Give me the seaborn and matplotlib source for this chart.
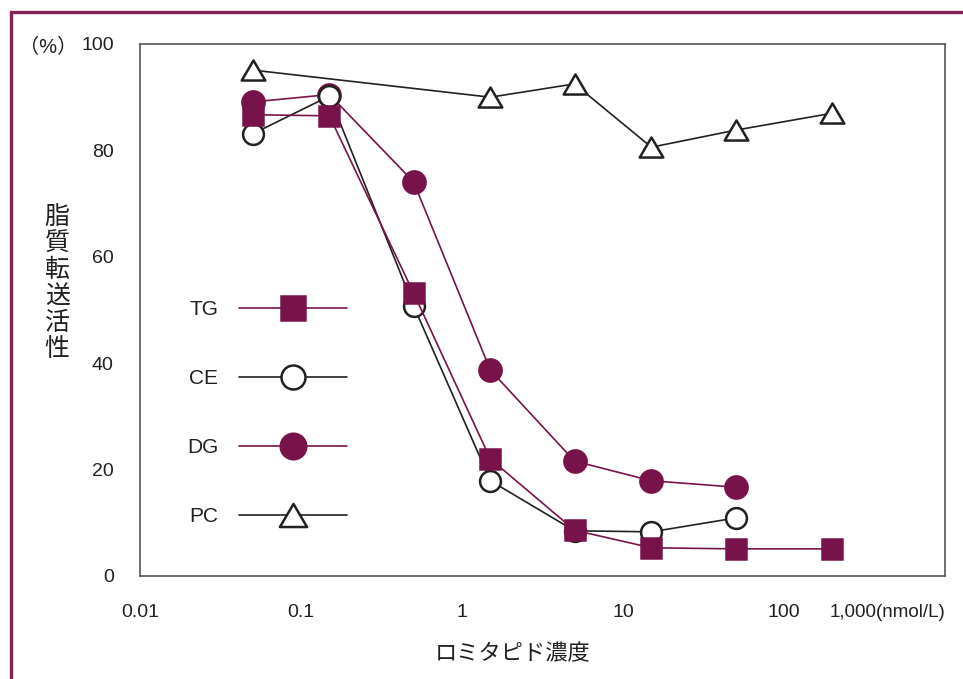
import matplotlib
matplotlib.use('Agg')
import matplotlib.pyplot as plt
from matplotlib.patches import Rectangle
from matplotlib.path import Path
import seaborn as sns
import pandas as pd

sns.set_theme(style='white')
plt.rcParams['font.family'] = ['Liberation Sans', 'Noto Sans CJK JP', 'DejaVu Sans']

# ---- data (lomitapide concentration, nmol/L) ----
conc_tg = [0.05, 0.15, 0.5, 1.5, 5, 15, 50, 200]
act_tg = [86.7, 86.5, 53.2, 22.0, 8.6, 5.3, 5.1, 5.1]

conc_ce = [0.05, 0.15, 0.5, 1.5, 5, 15, 50]
act_ce = [83.1, 90.2, 50.8, 17.9, 8.5, 8.3, 10.9]

conc_dg = [0.05, 0.15, 0.5, 1.5, 5, 15, 50]
act_dg = [89.1, 90.5, 74.1, 38.7, 21.6, 17.9, 16.7]

conc_pc = [0.05, 1.5, 5, 15, 50, 200]
act_pc = [95.1, 90.0, 92.5, 80.6, 83.8, 87.0]

x_ticks = [0.01, 0.1, 1, 10, 100, 1000]
x_ticklabels = ['0.01', '0.1', '1', '10', '100', '1,000(nmol/L)']
y_ticks = [0, 20, 40, 60, 80, 100]

MAROON = '#78124a'
BLACK = '#231f20'
# slightly flattened open triangle
tri = Path([(0, 0.85), (-1, -0.85), (1, -0.85), (0, 0.85)], closed=True)

fig = plt.figure(figsize=(9.63, 6.79), dpi=100)
ax = fig.add_axes([0.1454, 0.1517, 0.8359, 0.7835])

# drawing order: PC, DG, CE, TG (CE circle hides DG at 0.15)
series = [
    ('PC', conc_pc, act_pc, BLACK, tri, 'white', 17),
    ('DG', conc_dg, act_dg, MAROON, 'o', MAROON, 16),
    ('CE', conc_ce, act_ce, BLACK, 'o', 'white', 15),
    ('TG', conc_tg, act_tg, MAROON, 's', MAROON, 14.5),
]
handles = {}
for name, xs, ys, col, mk, fc, ms in series:
    df = pd.DataFrame({'conc': xs, 'act': ys})
    sns.lineplot(data=df, x='conc', y='act', ax=ax, color=col, lw=1.2,
                 marker=mk, ms=ms, markerfacecolor=fc, markeredgecolor=col,
                 mew=1.8, label=name)
    handles[name] = ax.get_lines()[-1]

ax.set_xscale('log')
ax.set_xlim(0.01, 1000)
ax.set_ylim(0, 100)
ax.set_xticks(x_ticks)
ax.set_xticklabels(x_ticklabels)
ax.xaxis.set_minor_locator(matplotlib.ticker.NullLocator())
ax.set_yticks(y_ticks)
ax.tick_params(axis='both', direction='in', length=10, width=1, color='#333333',
               labelsize=14, labelcolor='#231f20')
ax.tick_params(axis='x', pad=20)
ax.tick_params(axis='y', pad=19)
last = ax.get_xticklabels()[-1]
last.set_ha('right')
last.set_fontsize(13.5)

for sp in ax.spines.values():
    sp.set_color('#555555')
    sp.set_linewidth(1.2)

ax.set_xlabel('ロミタピド濃度', fontsize=16, color='#231f20')
ax.xaxis.set_label_coords(0.463, -0.148)
ax.xaxis.label.set_va('center')
ax.set_ylabel('脂\n質\n転\n送\n活\n性', fontsize=18, rotation=0, linespacing=1.12,
              color='#231f20')
ax.yaxis.set_label_coords(-0.103, 0.55)
ax.yaxis.label.set_va('center')
ax.yaxis.label.set_ha('center')
ax.text(-0.114, 0.994, '（%）', transform=ax.transAxes, fontsize=14.5,
        ha='center', va='center', color='#231f20')

leg_order = ['TG', 'CE', 'DG', 'PC']
ax.legend([handles[k] for k in leg_order], leg_order, markerfirst=False,
          loc='center left', bbox_to_anchor=(0.194, 0.392),
          bbox_transform=fig.transFigure, frameon=False, fontsize=15,
          handlelength=5.2, handletextpad=1.0, labelspacing=2.4,
          borderpad=0, borderaxespad=0, markerscale=1.15, labelcolor='#231f20')

# maroon frame around the figure (right and bottom run off the picture)
fig.patches.append(Rectangle((10.5 / 963, -0.1), 1.2, 0.1 + 1 - 12.5 / 679,
                             transform=fig.transFigure, fill=False,
                             ec='#862157', lw=2.4))

fig.savefig('out.png', dpi=100)
